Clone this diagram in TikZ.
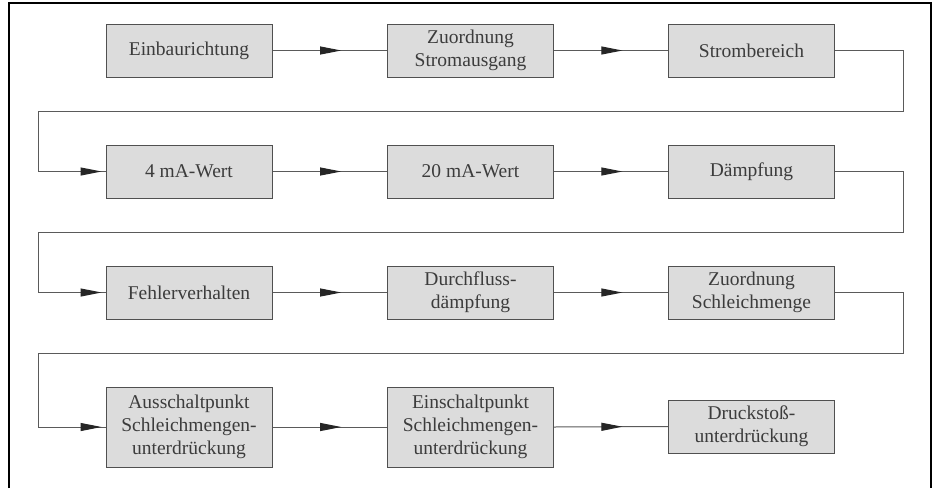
\documentclass[tikz,border=0pt]{standalone}
\usepackage{fontspec}
\setmainfont{Liberation Serif}
\usetikzlibrary{arrows.meta,decorations.markings}
\definecolor{boxfill}{HTML}{DCDCDC}
\definecolor{boxline}{HTML}{505050}
\definecolor{connline}{HTML}{5A5A5A}
\definecolor{arrowcol}{HTML}{262626}
\definecolor{txt}{HTML}{3C3C3C}
\begin{document}
\begin{tikzpicture}[x=1pt,y=-1pt,
  stepbox/.style={draw=boxline,fill=boxfill,line width=1pt,minimum width=166pt,minimum height=53pt,
    inner sep=0pt,align=center,text=txt,font=\fontsize{19.5}{23}\selectfont},
  tallbox/.style={stepbox,minimum height=80pt},
  conn/.style={draw=connline,line width=1pt,postaction={decorate},
    decoration={markings,mark=at position 0.6 with {\arrow[arrowcol]{Triangle[length=21pt,width=8pt]}}}},
  retconn/.style={draw=connline,line width=1pt,postaction={decorate},
    decoration={markings,mark=at position -4pt with {\arrow[arrowcol]{Triangle[length=21pt,width=8pt]}}}},
  frame/.style={draw=black,line width=1.5pt}]
\useasboundingbox (0,0) rectangle (937,488);
\fill[white] (0,0) rectangle (937,488);
\draw[frame] (9,488) -- (9,3) -- (931,3) -- (931,488);
% row 1
\node[stepbox] (ein) at (189,50.5) {Einbaurichtung};
\node[stepbox] (zsa) at (470.5,50.5) {Zuordnung\\Stromausgang};
\node[stepbox] (sb)  at (751.5,50.5) {Strombereich};
% row 2
\node[stepbox] (ma4) at (189,171.5) {4 mA-Wert};
\node[stepbox] (ma20) at (470.5,171.5) {20 mA-Wert};
\node[stepbox] (dae) at (751.5,171.5) {Dämpfung};
% row 3
\node[stepbox] (fv) at (189,292.5) {Fehlerverhalten};
\node[stepbox] (dfd) at (470.5,292.5) {Durchfluss-\\dämpfung};
\node[stepbox] (zsm) at (751.5,292.5) {Zuordnung\\Schleichmenge};
% row 4
\node[tallbox] (asp) at (189,427) {Ausschaltpunkt\\Schleichmengen-\\unterdrückung};
\node[tallbox] (esp) at (470.5,427) {Einschaltpunkt\\Schleichmengen-\\unterdrückung};
\node[stepbox] (dsu) at (751.5,426.5) {Druckstoß-\\unterdrückung};
% turn points
\coordinate (L) at (38,0);
\coordinate (r1) at (903,111);
\coordinate (r2) at (903,232);
\coordinate (r3) at (903,353);
% connectors
\draw[conn] (ein.east) -- (zsa.west);
\draw[conn] (zsa.east) -- (sb.west);
\draw[retconn] (sb.east) -| (r1) -- (r1 -| L) |- (ma4.west);
\draw[conn] (ma4.east) -- (ma20.west);
\draw[conn] (ma20.east) -- (dae.west);
\draw[retconn] (dae.east) -| (r2) -- (r2 -| L) |- (fv.west);
\draw[conn] (fv.east) -- (dfd.west);
\draw[conn] (dfd.east) -- (zsm.west);
\draw[retconn] (zsm.east) -| (r3) -- (r3 -| L) |- (asp.west);
\draw[conn] (asp.east) -- (esp.west);
\draw[conn] (esp.east) -- (dsu.west);
\end{tikzpicture}
\end{document}
